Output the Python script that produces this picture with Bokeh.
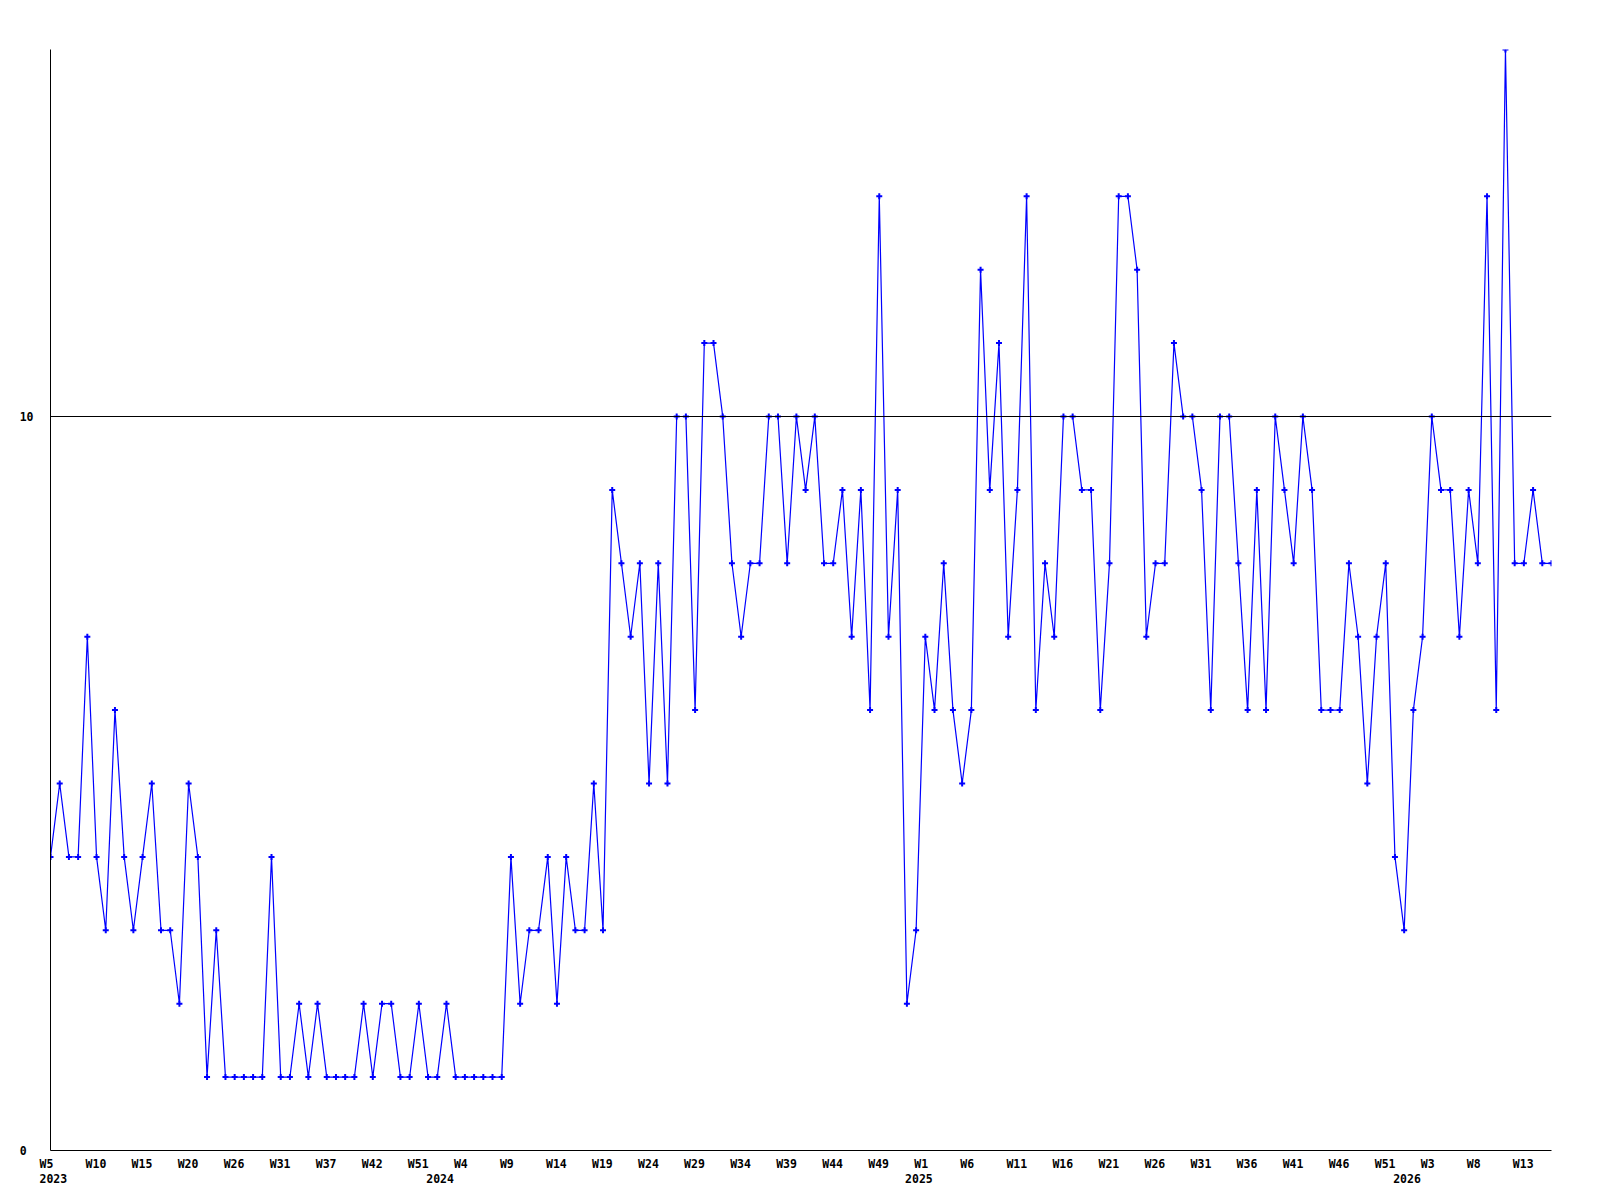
from bokeh.plotting import figure
from bokeh.models import (ColumnDataSource, Span, Range1d, LinearAxis,
                          FixedTicker)
from bokeh.embed import file_html
from bokeh.resources import INLINE

# ---- data ----
values = [4, 5, 4, 4, 7, 4, 3, 6, 4, 3, 4, 5, 3, 3, 2, 5, 4, 1, 3, 1,
          1, 1, 1, 1, 4, 1, 1, 2, 1, 2, 1,
          1, 1, 1, 2, 1, 2, 2, 1, 1, 2, 1, 1, 2, 1, 1, 1, 1, 1, 1,
          4, 2, 3, 3, 4, 2, 4, 3, 3, 5, 3,
          9, 8, 7, 8, 5, 8, 5, 10, 10, 6, 11, 11, 10, 8, 7, 8, 8, 10, 10, 8,
          10, 9, 10, 8, 8, 9, 7, 9, 6, 13,
          7, 9, 2, 3, 7, 6, 8, 6, 5, 6, 12, 9, 11, 7, 9, 13, 6, 8, 7, 10,
          10, 9, 9, 6, 8, 13, 13, 12, 7, 8,
          8, 11, 10, 10, 9, 6, 10, 10, 8, 6, 9, 6, 10, 9, 8, 10, 9, 6, 6, 6,
          8, 7, 5, 7, 8, 4, 3, 6, 7, 10,
          9, 9, 7, 9, 8, 13, 6, 15, 8, 8, 9, 8, 8]
week_labels = ["W5", "W10", "W15", "W20", "W26", "W31", "W37", "W42", "W51",
               "W4", "W9", "W14", "W19", "W24", "W29", "W34", "W39", "W44",
               "W49", "W1", "W6", "W11", "W16", "W21", "W26", "W31", "W36",
               "W41", "W46", "W51", "W3", "W8", "W13"]
week_label_step = 5
year_labels = ["2023", "2024", "2025", "2026"]
year_index = [0, 42, 94, 147]
y_tick_values = [0, 10]
y_tick_labels = ["0", "10"]
reference_level = 10
y_max = 15

xs = list(range(len(values)))
week_pos = [i * week_label_step for i in range(len(week_labels))]

FONT = "DejaVu Sans Mono"
FS_PX = 11.5
FS = f"{FS_PX}px"
ADV = 0.602 * FS_PX          # monospace advance
NB = "\u00a0"
PAD = 4                      # every x label padded to 4 characters


def pad(s, n):
    return s + NB * (n - len(s))


W, H = 1584, 1192
BL, BR, BT, BB = 50, W - 1551, 49, H - 1150
frame_w = W - BL - BR
n_span = len(values) - 1
ppu = frame_w / n_span
# centred label of PAD chars whose left edge sits 11px left of its point
shift_px = PAD * ADV / 2 - 11
shift = -shift_px / ppu

p = figure(width=W, height=H, output_backend="svg", toolbar_location=None,
           x_range=Range1d(0, n_span), y_range=Range1d(0, y_max),
           min_border_left=BL, min_border_right=BR, min_border_top=BT,
           min_border_bottom=BB)
p.xgrid.visible = False
p.ygrid.visible = False
p.outline_line_color = None
p.background_fill_color = "white"
p.border_fill_color = "white"
p.extra_x_ranges = {"lab": Range1d(shift, n_span + shift)}

xa = p.xaxis[0]
xa.ticker = FixedTicker(ticks=[])
xa.major_tick_line_color = None
xa.minor_tick_line_color = None
xa.major_tick_out = 0
xa.major_tick_in = 0
xa.major_label_standoff = 0
xa.axis_line_color = "black"

ylab_len = max(len(t) for t in y_tick_labels)
ya = p.yaxis[0]
ya.ticker = FixedTicker(ticks=y_tick_values)
ya.major_label_overrides = {v: pad(t, ylab_len) for v, t in zip(y_tick_values, y_tick_labels)}
ya.major_tick_line_color = None
ya.minor_tick_line_color = None
ya.major_tick_out = 0
ya.major_tick_in = 0
ya.major_label_standoff = 17
ya.major_label_text_font = FONT
ya.major_label_text_font_style = "bold"
ya.major_label_text_font_size = FS
ya.major_label_text_color = "black"
ya.axis_line_color = "black"


def label_axis(ticks, labels, standoff):
    ax = LinearAxis(x_range_name="lab", ticker=FixedTicker(ticks=ticks))
    ax.major_label_overrides = {t: pad(s, PAD) for t, s in zip(ticks, labels)}
    ax.axis_line_color = None
    ax.major_tick_line_color = None
    ax.minor_tick_line_color = None
    ax.major_tick_out = 0
    ax.major_tick_in = 0
    ax.major_label_standoff = standoff
    ax.major_label_text_font = FONT
    ax.major_label_text_font_style = "bold"
    ax.major_label_text_font_size = FS
    ax.major_label_text_color = "black"
    return ax


p.add_layout(label_axis(week_pos, week_labels, 6), "below")
p.add_layout(label_axis(year_index, year_labels, 0), "below")

p.add_layout(Span(location=reference_level, dimension="width",
                  line_color="black", line_width=1))

src = ColumnDataSource(dict(x=xs, y=values))
p.line("x", "y", source=src, line_color="#0000ff", line_width=1.2)
p.scatter("x", "y", source=src, marker="cross", size=6, line_width=2,
          line_color="#0000ff")

open("out.html", "w").write(file_html(p, INLINE))
